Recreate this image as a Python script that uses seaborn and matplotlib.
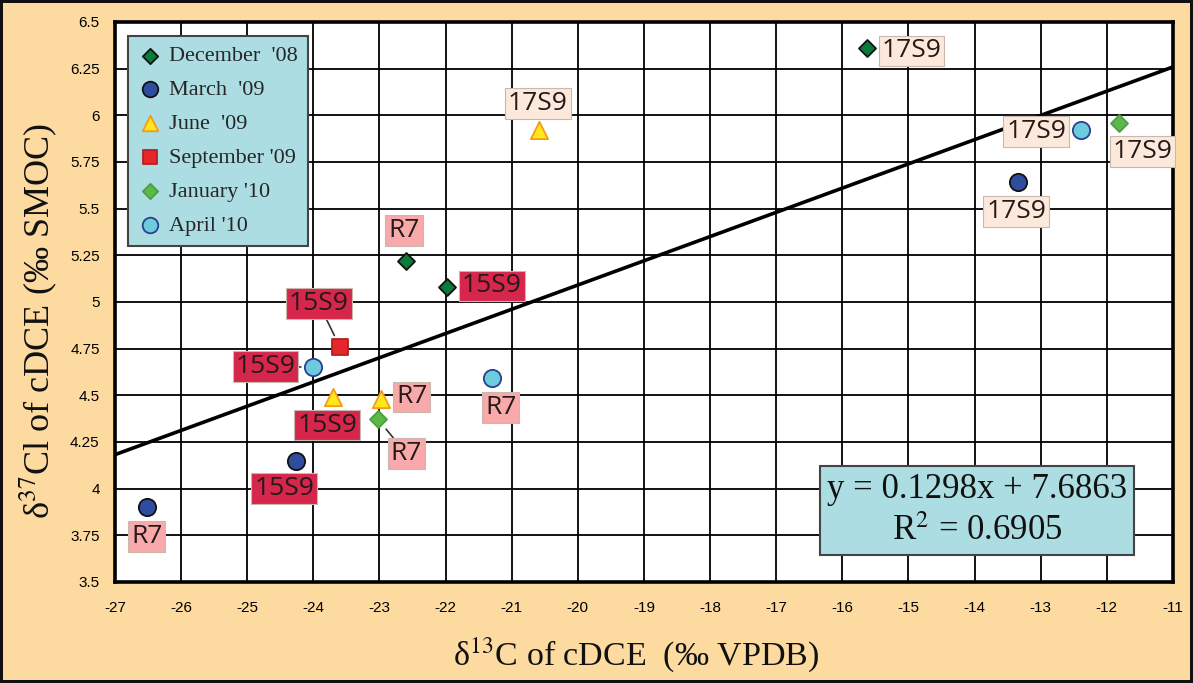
import matplotlib
matplotlib.use("Agg")
import matplotlib.pyplot as plt
import seaborn as sns
import pandas as pd
import numpy as np
from matplotlib.ticker import FuncFormatter

# Sampling campaigns (legend order)
campaigns = ["December  '08", "March  '09", "June  '09",
             "September '09", "January '10", "April '10"]

# One entry per sample
point_campaign = (["December  '08"] * 3 + ["March  '09"] * 3 + ["June  '09"] * 3
                  + ["September '09"] + ["January '10"] * 2 + ["April '10"] * 3)
point_well = ["17S9", "R7", "15S9",
              "R7", "15S9", "17S9",
              "17S9", "15S9", "R7",
              "15S9",
              "R7", "17S9",
              "15S9", "R7", "17S9"]
d13c = [-15.62, -22.60, -21.98,
        -26.52, -24.26, -13.34,
        -20.59, -23.70, -22.98,
        -23.60,
        -23.02, -11.81,
        -24.00, -21.30, -12.39]
d37cl = [6.36, 5.22, 5.08,
         3.90, 4.15, 5.64,
         5.92, 4.49, 4.48,
         4.76,
         4.37, 5.96,
         4.65, 4.59, 5.92]

# Linear fit reported on the chart
slope = 0.1298
intercept = 7.6863
r_squared = 0.6905

x_ticks = list(range(-27, -10))
y_ticks = [3.5, 3.75, 4.0, 4.25, 4.5, 4.75, 5.0, 5.25, 5.5, 5.75, 6.0, 6.25, 6.5]

df = pd.DataFrame({"campaign": point_campaign, "well": point_well,
                   "d13c": d13c, "d37cl": d37cl})

# Marker styling per campaign: (marker, face, edge, size)
styles = {
    "December  '08": ("D", "#0b7a3a", "#111111", 75),
    "March  '09": ("o", "#2f4d9e", "#111111", 155),
    "June  '09": ("^", "#ffe81a", "#f59a1c", 155),
    "September '09": ("s", "#e5262a", "#b52020", 140),
    "January '10": ("D", "#5db848", "#4aa043", 75),
    "April '10": ("o", "#6ccbdc", "#2e3f8f", 155),
}
# Label box colours per well
well_bg = {"15S9": "#d6264c", "R7": "#f9a9a9", "17S9": "#fde8dc"}

# Label offsets (pixels) and whether a leader line is drawn
label_pos = {
    ("December  '08", "17S9"): (44, -3, False),
    ("December  '08", "R7"): (-2, 30, False),
    ("December  '08", "15S9"): (45, 1, False),
    ("March  '09", "R7"): (0, -29, False),
    ("March  '09", "15S9"): (-12, -28, False),
    ("March  '09", "17S9"): (-2, -29, False),
    ("June  '09", "17S9"): (-1, 27, False),
    ("June  '09", "15S9"): (-6, -28, False),
    ("June  '09", "R7"): (31, 2, False),
    ("September '09", "15S9"): (-21, 43, True),
    ("January '10", "R7"): (28, -34, True),
    ("January '10", "17S9"): (23, -29, False),
    ("April '10", "15S9"): (-48, 1, True),
    ("April '10", "R7"): (9, -29, False),
    ("April '10", "17S9"): (-45, -1, False),
}

sns.set_theme(style="white")
plt.rcParams["axes.unicode_minus"] = False
plt.rcParams["mathtext.fontset"] = "stix"

fig = plt.figure(figsize=(11.93, 6.83), dpi=100, facecolor="#fddba0",
                 edgecolor="#111111", linewidth=3)
ax = fig.add_axes([0.0964, 0.148, 0.8868, 0.820])
ax.set_facecolor("white")

# Regression line across the axis range
fit_x = np.array([x_ticks[0], x_ticks[-1]], dtype=float)
fit_y = slope * fit_x + intercept
sns.lineplot(x=fit_x, y=fit_y, color="black", linewidth=2.6, ax=ax, zorder=3)

for camp in campaigns:
    sub = df[df["campaign"] == camp]
    m, fc, ec, s = styles[camp]
    sns.scatterplot(data=sub, x="d13c", y="d37cl", marker=m, color=fc,
                    edgecolor=ec, linewidth=1.3, s=s, label=camp, ax=ax,
                    zorder=5)

for _, row in df.iterrows():
    dx, dy, leader = label_pos[(row["campaign"], row["well"])]
    arrow = dict(arrowstyle="-", color="#333333", lw=1.2, shrinkA=0,
                 shrinkB=9) if leader else None
    ax.annotate(row["well"], xy=(row["d13c"], row["d37cl"]),
                xytext=(dx, dy), textcoords="offset pixels",
                ha="center", va="center", fontsize=19, family="Open Sans",
                color="#231a1a", zorder=6,
                bbox=dict(boxstyle="square,pad=0.11", fc=well_bg[row["well"]],
                          ec="#c8b8b0", lw=0.8),
                arrowprops=arrow)

ax.set_xlim(x_ticks[0], x_ticks[-1])
ax.set_ylim(y_ticks[0], y_ticks[-1])
ax.set_xticks(x_ticks)
ax.set_yticks(y_ticks)
ax.yaxis.set_major_formatter(FuncFormatter(lambda v, p: f"{v:g}"))
ax.grid(True, color="black", linewidth=1.3)
ax.set_axisbelow(True)
for sp in ax.spines.values():
    sp.set_color("black")
    sp.set_linewidth(2.6)
ax.tick_params(axis="both", direction="out", length=6, width=1.5,
               colors="black", labelsize=11, pad=5)
for lab in ax.get_xticklabels() + ax.get_yticklabels():
    lab.set_family("Liberation Sans")
ax.tick_params(axis="x", pad=8)
ax.set_xlabel("")
ax.set_ylabel("")

fig.text(0.533, 0.040, "δ$^{13}$C of cDCE  (‰ VPDB)", family="Liberation Serif",
         fontsize=24.5, ha="center", va="center", color="#111111")
fig.text(0.032, 0.530, "δ$^{37}$Cl of cDCE (‰ SMOC)", family="Liberation Serif",
         fontsize=26, ha="center", va="center", rotation=90, color="#111111")

leg = ax.legend(loc="upper left", bbox_to_anchor=(0.012, 0.975),
                prop={"family": "Liberation Serif", "size": 16},
                frameon=True, fancybox=False, borderpad=0.45,
                labelspacing=0.6, handletextpad=0.3, handlelength=1.1,
                borderaxespad=0, markerscale=0.9)
leg.get_frame().set_facecolor("#acdde2")
leg.get_frame().set_edgecolor("#444444")
leg.get_frame().set_linewidth(1.5)
leg.get_frame().set_alpha(1)
leg.set_zorder(10)

eq_text = f"y = {slope:.4f}x + {intercept:.4f}\nR$^{{2}}$ = {r_squared:.4f}"
ax.text(0.815, 0.128, eq_text, transform=ax.transAxes, ha="center",
        va="center", fontsize=25, family="Liberation Serif", color="#111111",
        linespacing=1.35, zorder=10,
        bbox=dict(boxstyle="square,pad=0.2", fc="#acdde2", ec="#444444",
                  lw=1.5))

fig.savefig("out.png", dpi=100, facecolor=fig.get_facecolor(),
            edgecolor=fig.get_edgecolor())
